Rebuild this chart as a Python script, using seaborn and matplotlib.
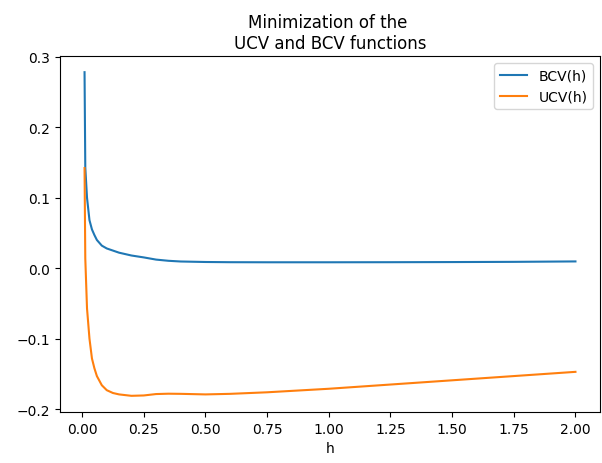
import numpy as np
import pandas as pd
import matplotlib
matplotlib.use("Agg")
import matplotlib.pyplot as plt
import seaborn as sns

# Bandwidth grid and criterion values
h = [0.01, 0.013, 0.02, 0.03, 0.04, 0.05, 0.06, 0.08, 0.10, 0.125, 0.15,
     0.20, 0.25, 0.30, 0.35, 0.40, 0.50, 0.60, 0.75, 1.00, 1.25, 1.50,
     1.75, 2.00]

bcv = [0.278, 0.143, 0.100, 0.068, 0.055, 0.047, 0.040, 0.032, 0.028, 0.025,
       0.022, 0.018, 0.0153, 0.0122, 0.0105, 0.0095, 0.0088, 0.0085, 0.0084,
       0.0084, 0.0085, 0.0087, 0.0090, 0.0096]

ucv = [0.142, 0.014, -0.057, -0.100, -0.128, -0.142, -0.153, -0.166, -0.173,
       -0.177, -0.179, -0.181, -0.1805, -0.1785, -0.178, -0.1782, -0.179,
       -0.1782, -0.176, -0.171, -0.165, -0.159, -0.153, -0.147]

labels = ["BCV(h)", "UCV(h)"]
colors = ["#1f77b4", "#ff7f0e"]

df = pd.DataFrame({
    "h": h + h,
    "value": bcv + ucv,
    "curve": [labels[0]] * len(h) + [labels[1]] * len(h),
})

fig = plt.figure(figsize=(6.02, 4.64), dpi=100)
ax = fig.add_axes([60 / 602, 1 - 413 / 464, 540 / 602, (413 - 57) / 464])

sns.lineplot(data=df, x="h", y="value", hue="curve",
             palette=dict(zip(labels, colors)), linewidth=1.5, ax=ax)

ax.set_title("Minimization of the \nUCV and BCV functions", fontsize=12)
ax.set_xlabel("h")
ax.set_ylabel("")
ax.set_xticks([0.0, 0.25, 0.5, 0.75, 1.0, 1.25, 1.5, 1.75, 2.0])
ax.set_yticks([-0.2, -0.1, 0.0, 0.1, 0.2, 0.3])
ax.legend(loc="upper right", title=None)

fig.savefig("out.png", dpi=100)
